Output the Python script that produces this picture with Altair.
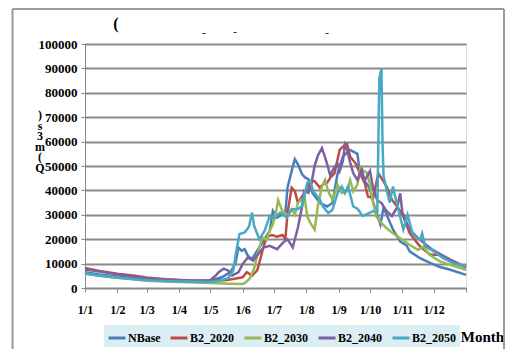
import altair as alt
import pandas as pd

# ---------------- data ----------------
month_ticks = [1, 32, 60, 91, 121, 152, 182, 213, 244, 274, 305, 335, 366]
month_labels = ["1/1", "1/2", "1/3", "1/4", "1/5", "1/6", "1/7", "1/8", "1/9",
                "1/10", "1/11", "1/12", ""]
y_ticks = [0, 10000, 20000, 30000, 40000, 50000, 60000, 70000, 80000, 90000, 100000]

series_names = ["NBase", "B2_2020", "B2_2030", "B2_2040", "B2_2050"]
series_colors = ["#4A7EBB", "#BE4B48", "#98B954", "#7D60A0", "#46AAC5"]

nbase_day = [1, 15, 32, 49, 60, 78, 92, 106, 121, 132, 140, 145, 148, 151, 154, 157, 161, 166, 169,
             173, 178, 181, 185, 190, 193, 195, 199, 202, 205, 209, 212, 215, 219, 226, 233, 238, 243,
             248, 255, 262, 264, 268, 272, 274, 276, 280, 284, 287, 291, 296, 303, 309, 312, 322, 332,
             341, 351, 366]
nbase_q = [6500, 5500, 4700, 4000, 3500, 3000, 2800, 2700, 3000, 4400, 6400, 9800, 16600, 15300, 15900,
           13200, 11900, 15300, 17300, 20000, 23400, 31600, 28900, 30200, 30900, 41100, 48000, 52800,
           50700, 46600, 45200, 44600, 38900, 34800, 33400, 34800, 47000, 53900, 56600, 55000, 48000,
           44500, 42000, 40500, 37000, 31000, 26000, 33000, 29000, 24000, 19000, 17500, 15000, 12200,
           10200, 8600, 7500, 5400]

b2020_day = [1, 15, 32, 49, 60, 78, 92, 106, 121, 135, 143, 152, 156, 161, 166, 169, 172, 175, 180, 185,
             190, 193, 195, 199, 202, 205, 209, 212, 217, 221, 226, 229, 233, 236, 240, 245, 250, 252,
             255, 260, 265, 269, 272, 277, 282, 286, 290, 295, 300, 306, 312, 322, 332, 341, 351, 366]
b2020_q = [8200, 7000, 5800, 5000, 4300, 3600, 3300, 3100, 3000, 3200, 3700, 4400, 6500, 5100, 7200,
           12000, 16900, 21000, 21700, 21000, 21700, 20300, 30700, 41100, 39700, 34900, 37600, 39000,
           43800, 43800, 41100, 42500, 43100, 45200, 47000, 56600, 58700, 59100, 53900, 51200, 46400,
           43000, 37500, 36800, 47000, 44300, 41600, 36200, 33400, 29300, 22500, 17000, 13600, 13600,
           10900, 8600]

b2030_day = [1, 15, 32, 49, 60, 78, 92, 106, 121, 140, 152, 155, 159, 163, 167, 171, 175, 177, 181, 184,
             186, 190, 195, 199, 202, 205, 209, 211, 214, 217, 221, 224, 228, 231, 234, 238, 241, 243,
             247, 252, 255, 258, 262, 265, 268, 271, 274, 277, 280, 285, 290, 296, 303, 312, 320, 325,
             331, 341, 351, 366]
b2030_q = [6000, 5000, 4200, 3500, 3000, 2700, 2500, 2300, 2000, 1700, 1600, 2300, 4000, 8000, 15000,
           20700, 19600, 22400, 26200, 31000, 36000, 31600, 29600, 32300, 30000, 34900, 36500, 38000,
           29300, 26600, 23900, 33400, 41600, 44300, 39600, 36200, 39600, 42300, 38900, 39600, 44300,
           39600, 42500, 49400, 48000, 47300, 42500, 35000, 29300, 26600, 24500, 22400, 20400, 17700,
           15600, 17000, 13600, 10900, 9500, 7500]

b2040_day = [1, 15, 32, 49, 60, 78, 92, 106, 121, 126, 129, 134, 138, 142, 145, 148, 152, 157, 162, 167,
             172, 178, 185, 191, 195, 200, 205, 209, 211, 215, 218, 221, 224, 228, 231, 233, 236, 238,
             241, 243, 245, 248, 250, 252, 255, 258, 262, 266, 269, 274, 277, 281, 285, 290, 295, 300,
             303, 305, 307, 312, 322, 334, 351, 366]
b2040_q = [7600, 6800, 5600, 4700, 4000, 3500, 3200, 3000, 3200, 5000, 6500, 7900, 7200, 5100, 5800,
           6400, 9800, 12500, 11200, 13900, 16600, 17300, 15900, 18700, 20000, 16600, 24800, 33500,
           39800, 39000, 43100, 50100, 54200, 57300, 53500, 50800, 45900, 48000, 50100, 50800, 48000,
           52000, 58700, 57000, 51500, 47000, 44300, 48500, 44000, 48000, 41000, 36000, 34800, 31500,
           29500, 33000, 38800, 31000, 29200, 23800, 19700, 15600, 11600, 8600]

b2050_day = [1, 15, 32, 49, 60, 78, 92, 106, 121, 130, 138, 143, 146, 149, 154, 158, 161, 163, 168, 173,
             178, 183, 188, 194, 199, 205, 209, 214, 217, 219, 221, 226, 229, 234, 238, 243, 247, 250,
             253, 258, 262, 267, 272, 277, 281, 283, 285, 286, 287, 290, 293, 296, 299, 303, 306, 310,
             315, 322, 324, 327, 335, 344, 354, 366]
b2050_q = [5800, 5000, 4200, 3600, 3200, 2900, 2700, 2600, 2500, 3000, 4000, 7100, 15300, 22100, 22800,
           25000, 30900, 25500, 20000, 23400, 29600, 28900, 30900, 28900, 32300, 32300, 33700, 43200,
           43800, 40400, 38900, 36200, 33400, 30700, 32000, 38900, 41600, 38900, 41600, 33400, 32500,
           29500, 30500, 31500, 31000, 86000, 90000, 60000, 46000, 40000, 35000, 41600, 36000, 29000,
           24000, 30000, 22000, 19700, 22400, 17000, 15000, 12200, 10200, 8800]

# ---------------- build table ----------------
all_days = [nbase_day, b2020_day, b2030_day, b2040_day, b2050_day]
all_q = [nbase_q, b2020_q, b2030_q, b2040_q, b2050_q]
rows = []
for k, (name, dd, qq) in enumerate(zip(series_names, all_days, all_q)):
    for i, (d, q) in enumerate(zip(dd, qq)):
        rows.append({"day": d, "Q": q, "series": name, "k": k, "i": i})
df = pd.DataFrame(rows)
dummy = pd.DataFrame({"a": [0]})

label_expr = ("[" + ",".join("'%s'" % s for s in month_labels) + "][indexof(["
              + ",".join(str(v) for v in month_ticks) + "], datum.value)]")

SERIF = "Liberation Serif"
GRAY = "#8a8a8a"

lines = alt.Chart(df).mark_line(strokeWidth=2.5).encode(
    x=alt.X("day:Q",
            scale=alt.Scale(domain=[1, 366], nice=False, zero=False),
            axis=alt.Axis(values=month_ticks, labelExpr=label_expr, grid=False,
                          tickSize=4, labelPadding=12, labelFlush=False,
                          labelOverlap=False, labelFont=SERIF, labelFontWeight="bold",
                          labelFontSize=12, labelColor="#000000",
                          title="Month", titleX=397, titleY=48, titleFont=SERIF,
                          titleFontSize=15, titleFontWeight="bold", titleAlign="center",
                          titleBaseline="middle", titleColor="#000000")),
    y=alt.Y("Q:Q",
            scale=alt.Scale(domain=[0, 100000], nice=False),
            axis=alt.Axis(values=y_ticks, format="d", grid=True, gridColor=GRAY,
                          gridWidth=2, tickSize=4, labelPadding=4, title=None,
                          labelFlush=False, labelFont=SERIF, labelFontWeight="bold",
                          labelFontSize=13, labelColor="#000000")),
    color=alt.Color("series:N",
                    scale=alt.Scale(domain=series_names, range=series_colors),
                    legend=alt.Legend(orient="none", legendX=19, legendY=281,
                                      direction="horizontal", columns=5, title=None,
                                      fillColor="#DBEEF4", padding=3, gridAlign="each",
                                      symbolType="stroke", symbolStrokeWidth=3,
                                      symbolSize=289, labelOffset=1, columnPadding=3,
                                      labelFont=SERIF, labelFontWeight="bold",
                                      labelFontSize=12, labelColor="#000000",
                                      labelLimit=0)),
    detail="k:N",
    order="i:Q",
)

# decorative: y-axis title (stacked characters), title fragments, outer frame
ytitle = alt.Chart(dummy).mark_text(
    text=")|s|3|m|(|Q", lineBreak="|", lineHeight=10.6, font=SERIF, fontWeight="bold",
    fontSize=12, align="center", baseline="middle", color="#000000"
).encode(x=alt.value(-45), y=alt.value(71))

paren = alt.Chart(dummy).mark_text(text="(", font=SERIF, fontWeight="bold", fontSize=16,
                                   color="#000000").encode(x=alt.value(31), y=alt.value(-20))
dash1 = alt.Chart(dummy).mark_text(text="-", font=SERIF, fontSize=12, color="#333333").encode(
    x=alt.value(119), y=alt.value(-11))
dash2 = alt.Chart(dummy).mark_text(text="-", font=SERIF, fontSize=12, color="#333333").encode(
    x=alt.value(150), y=alt.value(-12))
dash3 = alt.Chart(dummy).mark_text(text="-", font=SERIF, fontSize=12, color="#333333").encode(
    x=alt.value(242), y=alt.value(-11))

frame_left = alt.Chart(dummy).mark_rule(color="#9a9a9a", strokeWidth=2).encode(
    x=alt.value(-72.5), y=alt.value(-35), y2=alt.value(320))
frame_top = alt.Chart(dummy).mark_rule(color="#9a9a9a", strokeWidth=2).encode(
    x=alt.value(-72.5), x2=alt.value(419), y=alt.value(-35))
frame_right = alt.Chart(dummy).mark_rule(color="#9a9a9a", strokeWidth=2).encode(
    x=alt.value(419), y=alt.value(-35), y2=alt.value(320))

chart = alt.layer(
    frame_left, frame_top, frame_right, lines, ytitle, paren, dash1, dash2, dash3
).properties(
    width=381, height=244,
    padding={"left": 77, "top": 36, "right": 39, "bottom": 61},
    autosize=alt.AutoSizeParams(type="none"),
).configure_view(
    stroke=GRAY, strokeWidth=2
).configure_axis(
    domainColor=GRAY, domainWidth=2, tickColor=GRAY, tickWidth=1.5
).configure(background="white")

chart.save("out.html", embed_options={"renderer": "svg", "actions": False})
